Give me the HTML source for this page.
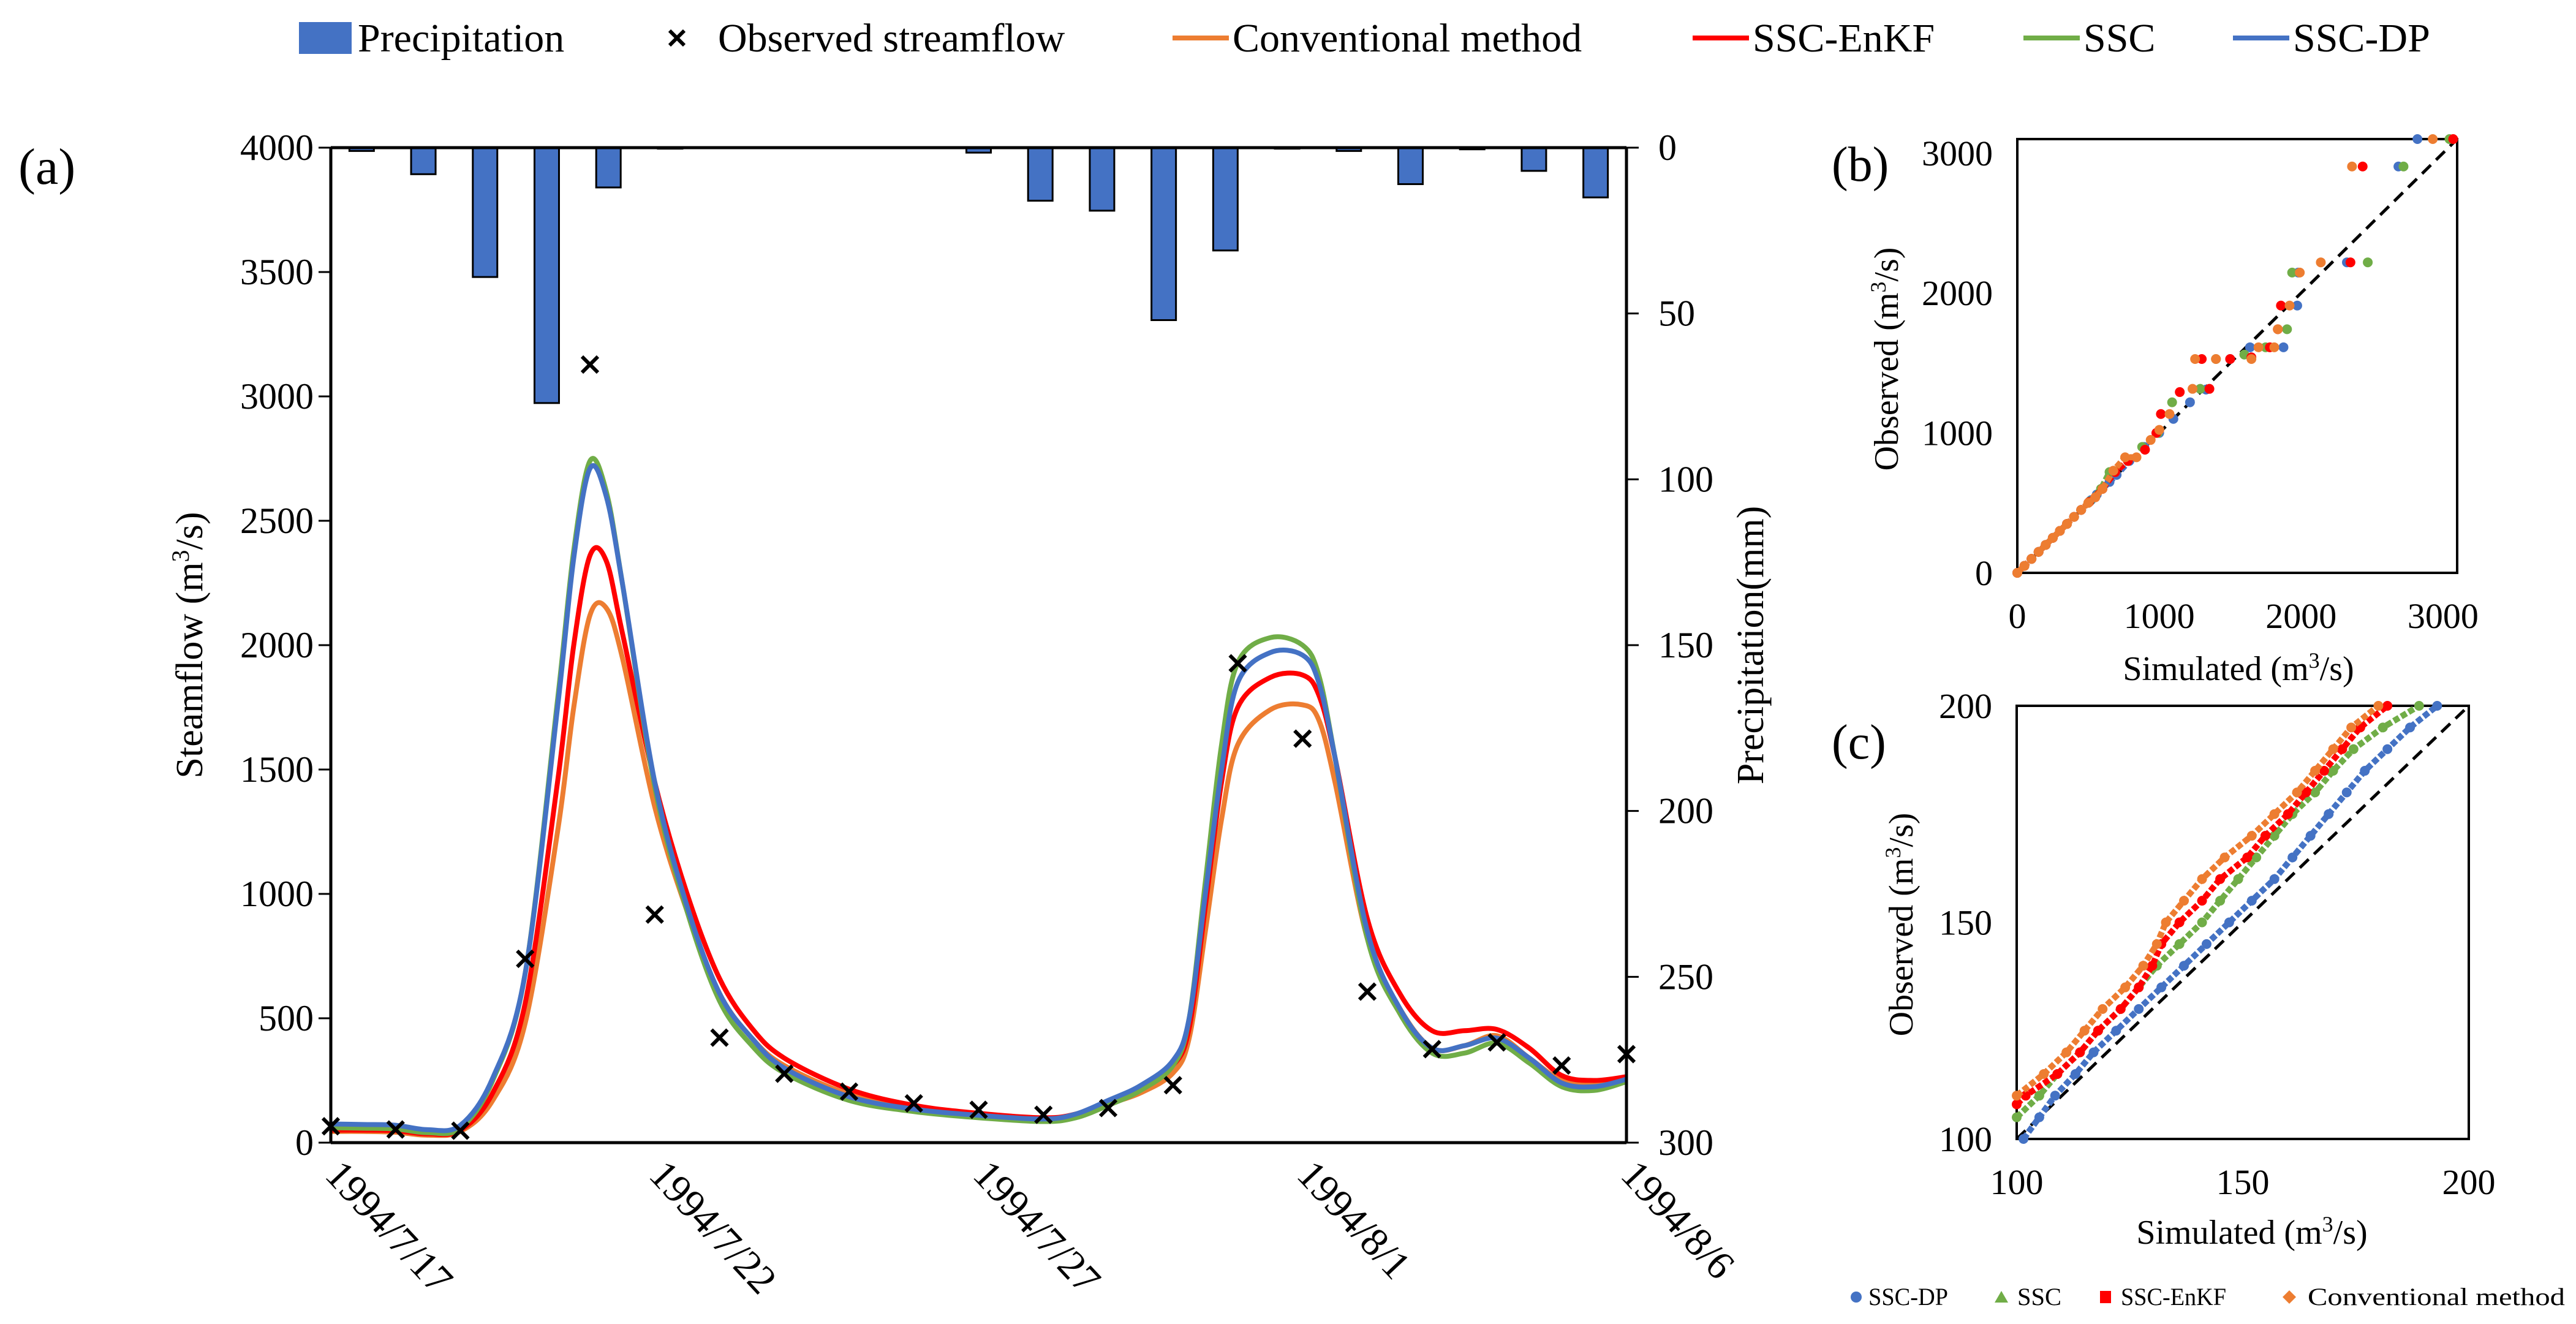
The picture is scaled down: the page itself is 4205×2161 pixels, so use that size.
<!DOCTYPE html>
<html><head><meta charset="utf-8"><style>
html,body{margin:0;padding:0;background:#fff}
svg{display:block;font-family:"Liberation Serif",serif}
svg text{font-family:"Liberation Serif",serif}
</style></head><body>
<svg id="chart" width="4205" height="2161" viewBox="0 0 4205 2161" font-family="Liberation Serif, serif"></svg>
<script>
// ---------- data: panel (a) ----------
const precip = [1,8,39,77,12,0.3,0,0,0,0,1.5,16,19,52,31,0.3,1,11,0.5,7,15];
const obsFlow = [66,53,48,739,3128,917,422,277,205,158,132,112,139,231,1927,1624,607,376,403,310,356];
const simT = [0,0.5,1,1.5,2,2.5,3,3.5,3.75,4,4.25,4.5,5,5.5,6,6.5,7,8,9,10,11,11.5,12,12.5,13,13.25,13.5,13.75,14,14.5,15,15.25,15.5,16,16.5,17,17.5,18,18.5,19,19.5,20];
const simDP = [75,73,70,52,70,260,680,1750,2350,2710,2600,2250,1450,950,600,420,300,185,135,110,95,115,170,230,330,500,1000,1500,1850,1970,1960,1850,1550,850,540,380,390,420,340,240,225,255];
const simSSC = [60,58,55,40,58,250,680,1780,2380,2740,2620,2250,1430,930,570,390,280,170,125,100,85,100,150,210,310,500,1050,1600,1930,2030,2000,1880,1550,820,520,360,360,400,320,225,210,245];
const simConv = [45,45,42,30,45,170,480,1250,1750,2120,2150,1950,1350,930,600,420,310,195,140,112,92,110,155,200,280,420,850,1300,1600,1740,1760,1700,1450,820,540,380,390,430,340,250,235,255];
const simEnKF = [50,50,48,35,50,200,560,1450,2000,2360,2340,2050,1450,1000,660,460,340,215,150,118,100,115,165,220,310,460,950,1450,1750,1870,1880,1800,1550,900,600,450,450,455,380,270,250,265];
const flowTicks = [0,500,1000,1500,2000,2500,3000,3500,4000];
const precTicks = [0,50,100,150,200,250,300];
const dateLabels = ["1994/7/17","1994/7/22","1994/7/27","1994/8/1","1994/8/6"];
const dateDays = [0,5,10,15,20];

// ---------- data: panel (b) ----------
const bDPsim = [0,50,100,150,200,250,300,350,400,450,520,560,600,650,700,790,895,1000,1100,1217,1330,1500,1640,1876,1973,1980,2323,2686,2820];
const bDPobs = [0,50,100,150,200,250,300,350,400,450,520,560,600,650,700,800,900,1000,1100,1219,1310,1528,1612,1612,1910,2146,2219,2904,3100];
const bSSCsim = [0,50,100,150,200,250,300,350,400,450,510,590,650,780,880,990,1091,1289,1400,1600,1750,1901,1937,2470,2722,3046];
const bSSCobs = [0,50,100,150,200,250,300,350,400,450,510,600,720,800,900,1000,1219,1315,1528,1560,1612,1741,2146,2219,2904,3100];
const bEnKFsim = [0,50,100,150,200,250,300,350,400,450,505,600,690,780,900,980,1012,1145,1354,1300,1500,1650,1780,1836,1858,2348,2434,3072];
const bEnKFobs = [0,50,100,150,200,250,300,350,400,450,505,600,720,800,880,1000,1135,1292,1315,1528,1528,1540,1612,1741,1910,2219,2904,3100];
const bConvsim = [0,50,100,150,200,250,300,350,400,450,500,550,600,677,760,840,940,1001,1073,1235,1253,1400,1650,1700,1811,1836,1919,1991,2139,2359,2928];
const bConvobs = [0,50,100,150,200,250,300,350,400,450,500,540,600,730,826,826,950,1022,1135,1315,1528,1528,1528,1612,1612,1741,1910,2146,2219,2904,3100];

// ---------- data: panel (c) ----------
const cDPobs = [100,105,110,115,120,125,130,135,140,145,150,155,160,165,170,175,180,185,190,195,200];
const cDPsim = [101.5,105,108.5,113,117,122,127,132,137,142,147,152,157,161,165,169,173,177,182,187,193];
const cSSCobs = [105,110,115,120,125,130,135,140,145,150,155,160,165,170,175,180,185,190,195,200];
const cSSCsim = [100,105,109,114,118,123,127,131,136,141,145,149,153,157,161,166,170,174.5,181,189];
const cEnKFobs = [108,110,115,120,125,130,135,140,145,150,155,160,165,170,175,180,185,190,195,200];
const cEnKFsim = [100,102,109,114,118,123,127,130,132,136,141,145,151,155,160,164,168,172,176,182];
const cConvobs = [110,115,120,125,130,135,140,145,150,155,160,165,170,175,180,185,190,195,200];
const cConvsim = [100,106,111,115,119,124,128,131,133,137,141,146,152,157,162,166,170,174,180];

const NS = "http://www.w3.org/2000/svg";
const svg = document.getElementById("chart");
function mk(tag, attrs, parent, text) {
  const e = document.createElementNS(NS, tag);
  if (tag === "text") e.setAttribute("font-family", "Liberation Serif, serif");
  for (const k in attrs) e.setAttribute(k, attrs[k]);
  if (text !== undefined) e.textContent = text;
  (parent || svg).appendChild(e);
  return e;
}

// ---------- panel (a) ----------
const A = {l:540, r:2655, t:241, b:1865};
const xDay = d => A.l + d * (A.r - A.l) / 20;
const yFlow = v => A.b - v / 4000 * (A.b - A.t);
const yPrec = v => A.t + v / 300 * (A.b - A.t);
const catW = (A.r - A.l) / precip.length;

const gA = mk("g", {});  

precip.forEach((p, i) => {
  const cx = A.l + (i + 0.5) * catW;
  const h = yPrec(p) - A.t;
  const r = mk("rect", {x: cx - 20, y: A.t, width: 40, height: Math.max(h, 0.5), fill: "#4472C4", stroke: "#000", "stroke-width": 3}, gA);
  
  
});

function smoothPath(xs, ys) {
  let d = `M${xs[0]},${ys[0]}`;
  for (let i = 0; i < xs.length - 1; i++) {
    const x0 = xs[Math.max(i-1,0)], y0 = ys[Math.max(i-1,0)];
    const x1 = xs[i], y1 = ys[i], x2 = xs[i+1], y2 = ys[i+1];
    const x3 = xs[Math.min(i+2,xs.length-1)], y3 = ys[Math.min(i+2,xs.length-1)];
    d += ` C${x1+(x2-x0)/6},${y1+(y2-y0)/6} ${x2-(x3-x1)/6},${y2-(y3-y1)/6} ${x2},${y2}`;
  }
  return d;
}
const series = [
  {vals: simConv, color: "#ED7D31", name: "conventional-line"},
  {vals: simEnKF, color: "#FF0000", name: "ssc-enkf-line"},
  {vals: simSSC, color: "#70AD47", name: "ssc-line"},
  {vals: simDP, color: "#4472C4", name: "ssc-dp-line"}
];
series.forEach(s => {
  const p = mk("path", {d: smoothPath(simT.map(xDay), s.vals.map(yFlow)), fill: "none", stroke: s.color, "stroke-width": 8, "stroke-linejoin": "round"}, gA);
  
  
});

obsFlow.forEach((v, i) => {
  const cx = xDay(i), cy = yFlow(v), s = 13;
  const m = mk("path", {d: `M${cx-s},${cy-s}L${cx+s},${cy+s}M${cx+s},${cy-s}L${cx-s},${cy+s}`, stroke: "#000", "stroke-width": 6, fill: "none"}, gA);
  
  
});

mk("line", {x1: A.l, y1: A.t, x2: A.r, y2: A.t, stroke: "#000", "stroke-width": 5}, gA);
mk("line", {x1: A.l, y1: A.b, x2: A.r, y2: A.b, stroke: "#000", "stroke-width": 5}, gA);
mk("line", {x1: A.l, y1: A.t, x2: A.l, y2: A.b, stroke: "#000", "stroke-width": 5}, gA);
mk("line", {x1: A.r, y1: A.t, x2: A.r, y2: A.b, stroke: "#000", "stroke-width": 5}, gA);

flowTicks.forEach(v => {
  mk("line", {x1: A.l - 20, y1: yFlow(v), x2: A.l, y2: yFlow(v), stroke: "#000", "stroke-width": 3}, gA);
  const t = mk("text", {x: A.l - 28, y: yFlow(v) + 20, "text-anchor": "end", "font-size": 60}, gA, String(v));
  
  
});
precTicks.forEach(v => {
  mk("line", {x1: A.r, y1: yPrec(v), x2: A.r + 20, y2: yPrec(v), stroke: "#000", "stroke-width": 3}, gA);
  const t = mk("text", {x: A.r + 52, y: yPrec(v) + 20, "text-anchor": "start", "font-size": 60}, gA, String(v));
  
  
});
dateDays.forEach((d, i) => {
  const x = xDay(d) - 12, y = A.b + 55;
  const t = mk("text", {x: x, y: y, "font-size": 66, transform: `rotate(47 ${x} ${y})`}, gA, dateLabels[i]);
  
  
});
let t1 = mk("text", {x: 330, y: 1053, "text-anchor": "middle", "font-size": 62, transform: "rotate(-90 330 1053)"}, gA);
t1.innerHTML = 'Steamflow (m<tspan font-size="40" dy="-22">3</tspan><tspan dy="22">/s)</tspan>';


let t2 = mk("text", {x: 2878, y: 1053, "text-anchor": "middle", "font-size": 62, transform: "rotate(-90 2878 1053)"}, gA, "Precipitation(mm)");


let la = mk("text", {x: 30, y: 300, "font-size": 84}, gA, "(a)");



// ---------- top legend ----------
const gL = mk("g", {});  
mk("rect", {x: 488, y: 36, width: 86, height: 52, fill: "#4472C4"}, gL);
let lt = mk("text", {x: 584, y: 84, "font-size": 66}, gL, "Precipitation");  
mk("path", {d: "M1093,50L1117,74M1117,50L1093,74", stroke: "#000", "stroke-width": 6}, gL);
lt = mk("text", {x: 1172, y: 84, "font-size": 66}, gL, "Observed streamflow");  
const legLines = [[1914, "#ED7D31", "Conventional method", "legend-conventional"],[2763, "#FF0000", "SSC-EnKF", "legend-ssc-enkf"],[3303, "#70AD47", "SSC", "legend-ssc"],[3645, "#4472C4", "SSC-DP", "legend-ssc-dp"]];
legLines.forEach(l => {
  mk("line", {x1: l[0], y1: 62, x2: l[0] + 92, y2: 62, stroke: l[1], "stroke-width": 8}, gL);
  const e = mk("text", {x: l[0] + 98, y: 84, "font-size": 66}, gL, l[2]);
  
  
});

// ---------- scatter helper ----------
const colors = {dp: "#4472C4", ssc: "#70AD47", enkf: "#FF0000", conv: "#ED7D31"};
function scatterPanel(P, lo, hi, sets, ticks, name, lineMax) {
  const g = mk("g", {});  
  const sx = v => P.l + (v - lo) / (hi - lo) * (P.r - P.l);
  const sy = v => P.b - (v - lo) / (hi - lo) * (P.b - P.t);
  mk("rect", {x: P.l, y: P.t, width: P.r - P.l, height: P.b - P.t, fill: "none", stroke: "#000", "stroke-width": 4}, g);
  mk("line", {x1: sx(lo), y1: sy(lo), x2: sx(hi), y2: sy(hi), stroke: "#000", "stroke-width": 5, "stroke-dasharray": "20,12"}, g);
  sets.forEach(s => {
    const pts = s.sim.map((v, i) => [v, s.obs[i]]).filter(p => p[1] <= lineMax);
    if (pts.length > 1) {
      const pl = mk("polyline", {points: pts.map(p => `${sx(p[0])},${sy(p[1])}`).join(" "), fill: "none", stroke: s.c, "stroke-width": 10, "stroke-dasharray": "10,4"}, g);
      
      
    }
    s.sim.forEach((v, i) => {
      const c = mk("circle", {cx: sx(v), cy: sy(s.obs[i]), r: 8, fill: s.c}, g);
      
      
    });
  });
  ticks.forEach(v => {
    const ty = mk("text", {x: P.l - 40, y: sy(v) + 20, "text-anchor": "end", "font-size": 58}, g, String(v));
     
    const tx = mk("text", {x: sx(v), y: P.b + 90, "text-anchor": "middle", "font-size": 58}, g, String(v));
     
  });
  return g;
}
const B = {l:3293, r:4011, t:227, b:935};
const gB = scatterPanel(B, 0, 3100, [
  {sim: bDPsim, obs: bDPobs, c: colors.dp},
  {sim: bSSCsim, obs: bSSCobs, c: colors.ssc},
  {sim: bEnKFsim, obs: bEnKFobs, c: colors.enkf},
  {sim: bConvsim, obs: bConvobs, c: colors.conv}
], [0,1000,2000,3000], "panel-b", 850);
const C = {l:3292, r:4030, t:1152, b:1859};
const gC = scatterPanel(C, 100, 200, [
  {sim: cDPsim, obs: cDPobs, c: colors.dp},
  {sim: cSSCsim, obs: cSSCobs, c: colors.ssc},
  {sim: cEnKFsim, obs: cEnKFobs, c: colors.enkf},
  {sim: cConvsim, obs: cConvobs, c: colors.conv}
], [100,150,200], "panel-c", 1000);

function titleXY(g, x, y, rot, name) {
  const t = mk("text", {x: x, y: y, "text-anchor": "middle", "font-size": 56, transform: rot ? `rotate(-90 ${x} ${y})` : ""}, g);
  t.innerHTML = (rot ? 'Observed' : 'Simulated') + ' (m<tspan font-size="36" dy="-20">3</tspan><tspan dy="20">/s)</tspan>';
  
  
}
titleXY(gB, 3654, 1110, false, 'panel-b-x-title');
titleXY(gB, 3098, 586, true, 'panel-b-y-title');
titleXY(gC, 3676, 2030, false, 'panel-c-x-title');
titleXY(gC, 3122, 1509, true, 'panel-c-y-title');
let lb = mk("text", {x: 2990, y: 295, "font-size": 80}, gB, "(b)");  
let lc = mk("text", {x: 2990, y: 1238, "font-size": 80}, gC, "(c)");  

// bottom legend
const gBL = mk("g", {});  
mk("circle", {cx: 3030, cy: 2117, r: 9, fill: colors.dp}, gBL);
mk("path", {d: "M3267,2107L3278,2126L3256,2126Z", fill: colors.ssc}, gBL);
mk("rect", {x: 3428, y: 2107, width: 18, height: 20, fill: colors.enkf}, gBL);
mk("path", {d: "M3737,2106L3748,2117L3737,2128L3726,2117Z", fill: colors.conv}, gBL);
[[3050, "SSC-DP", 130, "legend-ssc-dp-scatter"],[3293, "SSC", 72, "legend-ssc-scatter"],[3462, "SSC-EnKF", 172, "legend-ssc-enkf-scatter"],[3767, "Conventional method", 420, "legend-conventional-scatter"]].forEach(l => {
  const e = mk("text", {x: l[0], y: 2130, "font-size": 40, textLength: l[2], lengthAdjust: "spacingAndGlyphs"}, gBL, l[1]);
  
  
});
</script>
</body></html>
